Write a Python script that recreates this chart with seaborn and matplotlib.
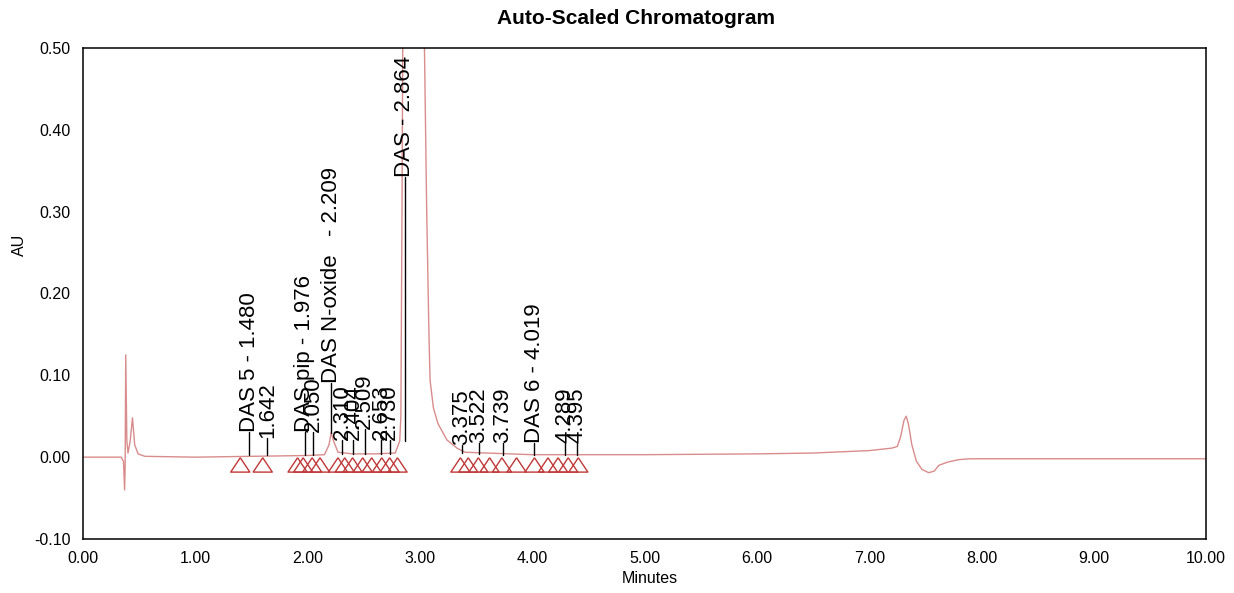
import numpy as np
import pandas as pd
import seaborn as sns
import matplotlib
matplotlib.use("Agg")
import matplotlib.pyplot as plt
from matplotlib.ticker import MultipleLocator, FormatStrFormatter

# chromatogram trace (minutes, AU)
trace_t = [0.00, 0.34, 0.36, 0.37, 0.375, 0.38, 0.39, 0.40, 0.42, 0.44, 0.46, 0.49, 0.55,
           1.00, 1.50, 2.00, 2.15, 2.19, 2.21, 2.23, 2.27, 2.40, 2.60, 2.78, 2.82, 2.83,
           2.84, 2.85, 2.90, 3.00, 3.04, 3.06, 3.08, 3.09, 3.12, 3.16, 3.24, 3.33, 3.40,
           4.00, 5.00, 6.00, 6.50, 7.00, 7.20, 7.25, 7.28, 7.31, 7.33, 7.35, 7.38, 7.42,
           7.47, 7.53, 7.58, 7.62, 7.70, 7.80, 7.90, 10.00]
trace_au = [0.000, 0.000, -0.005, -0.040, -0.010, 0.125, 0.020, 0.005, 0.020, 0.048, 0.015, 0.004, 0.001,
            0.000, 0.001, 0.002, 0.003, 0.015, 0.030, 0.020, 0.006, 0.004, 0.004, 0.005, 0.020, 0.050,
            0.300, 0.600, 1.000, 0.800, 0.500, 0.300, 0.150, 0.094, 0.060, 0.041, 0.021, 0.011, 0.006,
            0.003, 0.003, 0.004, 0.005, 0.008, 0.011, 0.013, 0.025, 0.045, 0.050, 0.040, 0.015, -0.005,
            -0.015, -0.019, -0.017, -0.010, -0.006, -0.003, -0.002, -0.002]

# peak start / end markers (minutes)
marker_t = [1.40, 1.60, 1.91, 1.96, 2.04, 2.11, 2.27, 2.33, 2.40, 2.49, 2.57, 2.66, 2.73, 2.80,
            3.36, 3.43, 3.52, 3.62, 3.73, 3.86, 4.02, 4.14, 4.23, 4.32, 4.41]

# peak labels
peak_names = ["DAS 5 - 1.480", "1.642", "DAS pip - 1.976", "2.050", "DAS N-oxide   - 2.209",
              "2.310", "2.404", "2.509", "2.653", "2.730", "DAS - 2.864", "3.375", "3.522",
              "3.739", "DAS 6 - 4.019", "4.289", "4.395"]
peak_rt = [1.480, 1.642, 1.976, 2.050, 2.209, 2.310, 2.404, 2.509, 2.653, 2.730, 2.864,
           3.375, 3.522, 3.739, 4.019, 4.289, 4.395]
peak_top = [0.003, 0.003, 0.003, 0.003, 0.030, 0.004, 0.004, 0.004, 0.004, 0.004, 0.020,
            0.005, 0.004, 0.003, 0.003, 0.003, 0.003]

# label placement (text bottom, AU)
label_y = [0.031, 0.024, 0.031, 0.031, 0.090, 0.021, 0.021, 0.035, 0.021, 0.021, 0.342,
           0.015, 0.017, 0.017, 0.017, 0.017, 0.017]

trace = pd.DataFrame({"Minutes": trace_t, "AU": trace_au})
marks = pd.DataFrame({"Minutes": marker_t, "AU": [-0.0095] * len(marker_t)})

sns.set_style("white")
plt.rcParams["font.family"] = ["Liberation Sans", "DejaVu Sans"]
plt.rcParams["axes.unicode_minus"] = False
plt.rcParams["text.color"] = "black"
plt.rcParams["axes.labelcolor"] = "black"
plt.rcParams["xtick.color"] = "black"
plt.rcParams["ytick.color"] = "black"

fig = plt.figure(figsize=(12.34, 5.93), dpi=100)
ax = fig.add_axes([0.0673, 0.0911, 0.9101, 0.8280])

sns.lineplot(data=trace, x="Minutes", y="AU", ax=ax, color="#d98c8c", linewidth=1.0)
tri = [(0, 0.75), (-1, -0.75), (1, -0.75), (0, 0.75)]
sns.scatterplot(data=marks, x="Minutes", y="AU", ax=ax, marker=tri, s=190,
                facecolor="none", edgecolor="#c03838", linewidth=1.0, zorder=3)

for name, rt, top, ly in zip(peak_names, peak_rt, peak_top, label_y):
    ax.plot([rt, rt], [top, ly], color="black", linewidth=1.0, zorder=4)
    ax.text(rt, ly, name, rotation=90, ha="center", va="bottom", fontsize=16,
            color="black", zorder=5)

ax.set_xlim(0, 10)
ax.set_ylim(-0.10, 0.50)
ax.xaxis.set_major_locator(MultipleLocator(1.0))
ax.xaxis.set_minor_locator(MultipleLocator(0.2))
ax.yaxis.set_major_locator(MultipleLocator(0.1))
ax.yaxis.set_minor_locator(MultipleLocator(0.02))
ax.xaxis.set_major_formatter(FormatStrFormatter("%.2f"))
ax.yaxis.set_major_formatter(FormatStrFormatter("%.2f"))
ax.tick_params(axis="both", which="major", direction="out", length=8, width=1,
               labelsize=11.5, pad=1)
ax.tick_params(axis="x", which="minor", direction="out", length=6, width=1)
ax.tick_params(axis="y", which="minor", direction="in", length=5, width=1)
for sp in ax.spines.values():
    sp.set_color("black")
    sp.set_linewidth(1.1)

ax.set_xlabel("Minutes", fontsize=11.5)
ax.set_ylabel("AU", fontsize=11.5)
ax.xaxis.set_label_coords(0.505, -0.066)
ax.yaxis.set_label_coords(-0.050, 0.60)
fig.text(0.515, 0.968, "Auto-Scaled Chromatogram", ha="center", va="center",
         fontsize=15, fontweight="bold")

fig.savefig("out.png", dpi=100)
